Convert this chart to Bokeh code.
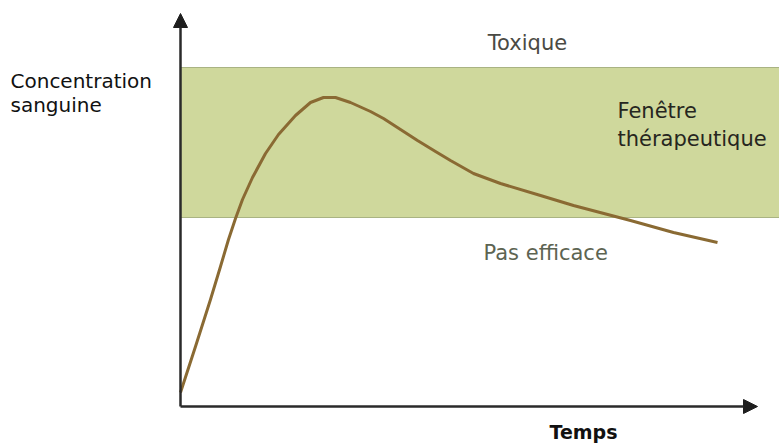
from bokeh.plotting import figure
from bokeh.models import Range1d, Arrow, NormalHead, Label
from bokeh.embed import file_html
from bokeh.resources import INLINE

# Concentration curve (time, concentration), arbitrary units
time = [0, 15, 30, 40, 48, 55, 62, 72, 85, 98, 115, 130, 143, 155, 170, 190, 203, 220, 237, 255,
        270, 293, 320, 360, 393, 450, 493, 537]
conc = [14, 60, 107, 140, 167, 188, 207, 229, 253, 272, 291, 304, 309, 309, 304, 295, 288, 277, 266, 255,
        246, 233, 223, 211, 201, 186, 174, 164]

# Therapeutic window bounds
window_low = 189
window_high = 339
window_end = 620

# Axis extents
x_axis_end = 577
y_axis_end = 393

FONT = "DejaVu Sans"

p = figure(width=779, height=445, output_backend="svg", toolbar_location=None,
           x_range=Range1d(-180, 599), y_range=Range1d(-39, 406),
           x_axis_location=None, y_axis_location=None, min_border=0)
p.grid.visible = False
p.outline_line_color = None
p.background_fill_color = "white"

p.quad(left=[0], right=[window_end], bottom=[window_low], top=[window_high],
       fill_color="#cfd89c", line_color="#a9b383", line_width=1)

p.line(time, conc, line_color="#8a6a33", line_width=3, line_join="round")

p.add_layout(Arrow(end=NormalHead(size=14, fill_color="#1e1e1e", line_color="#1e1e1e"),
                   x_start=0, y_start=0, x_end=0, y_end=y_axis_end,
                   line_color="#2a2a2a", line_width=2.5))
p.add_layout(Arrow(end=NormalHead(size=14, fill_color="#1e1e1e", line_color="#1e1e1e"),
                   x_start=0, y_start=0, x_end=x_axis_end, y_end=0,
                   line_color="#2a2a2a", line_width=2.5))

def lab(x, y, t, color, size="21px", align="left", weight="normal"):
    p.add_layout(Label(x=x, y=y, text=t, text_color=color, text_font=FONT,
                       text_font_size=size, text_align=align, text_baseline="middle",
                       text_font_style=weight))

lab(347, 364, "Toxique", "#4a4a44", size="21px", align="center")
lab(437, 296, "Fenêtre", "#262620", size="21px")
lab(437, 268, "thérapeutique", "#262620", size="21px")
lab(303, 154, "Pas efficace", "#5d6452", size="21px")
lab(-170, 326, "Concentration", "#111111", size="20px")
lab(-170, 302, "sanguine", "#111111", size="20px")
lab(403, -25, "Temps", "#111111", size="19px", align="center", weight="bold")

open("out.html", "w").write(file_html(p, INLINE))
